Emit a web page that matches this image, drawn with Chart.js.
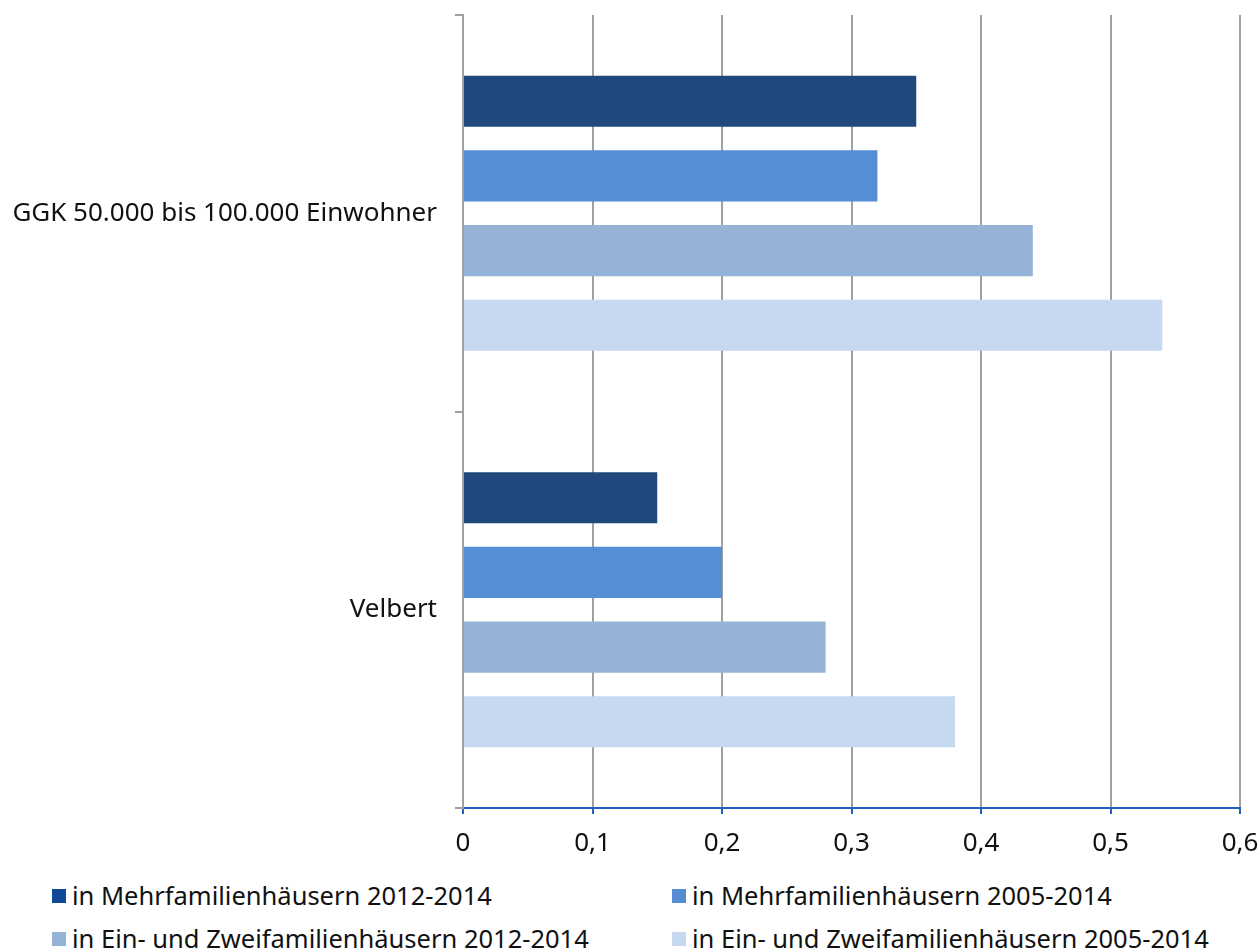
<!DOCTYPE html>
<html>
<head>
<meta charset="utf-8">
<script src="https://cdn.jsdelivr.net/npm/chart.js@4"></script>
<style>
  html, body { margin: 0; padding: 0; background: #fff; }
  #wrap { position: relative; width: 1259px; height: 949px; overflow: hidden; }
  #chart { position: absolute; left: 0; top: 0; }
  #legend { position: absolute; left: 0; top: 870px; width: 1259px; font-family: "Noto Sans", sans-serif; font-size: 25.5px; line-height: 35px; color: #111; }
  .item { position: absolute; display: flex; align-items: center; white-space: nowrap; }
  .box { width: 14px; height: 14px; margin-right: 6px; }
</style>
</head>
<body>
<div id="wrap">
  <canvas id="chart" width="1259" height="860"></canvas>
  <div id="legend"></div>
</div>
<script>
const categories = ["GGK 50.000 bis 100.000 Einwohner", "Velbert"];
const seriesNames = [
  "in Mehrfamilienhäusern 2012-2014",
  "in Mehrfamilienhäusern 2005-2014",
  "in Ein- und Zweifamilienhäusern 2012-2014",
  "in Ein- und Zweifamilienhäusern 2005-2014"
];
const mfh1214 = [0.35, 0.15];
const mfh0514 = [0.32, 0.20];
const ezfh1214 = [0.44, 0.28];
const ezfh0514 = [0.54, 0.38];
const barColors = ["#1f497d", "#558ed5", "#95b3d7", "#c6d9f1"];
const legendColors = ["#0e4a99", "#558ed5", "#95b3d7", "#c6d9f1"];

const seriesValues = [mfh1214, mfh0514, ezfh1214, ezfh0514];

const tickFont = { family: "Noto Sans", size: 26 };

const chart = new Chart(document.getElementById("chart"), {
  type: "bar",
  data: {
    labels: categories,
    datasets: seriesValues.map((vals, i) => ({
      label: seriesNames[i],
      data: vals,
      backgroundColor: barColors[i],
      borderWidth: 0,
      categoryPercentage: 0.753,
      barPercentage: 0.685
    }))
  },
  options: {
    indexAxis: "y",
    responsive: false,
    animation: false,
    layout: { padding: { top: 15, right: 19, left: 0, bottom: 0 } },
    plugins: { legend: { display: false }, tooltip: { enabled: false } },
    scales: {
      x: {
        min: 0,
        max: 0.6,
        ticks: {
          stepSize: 0.1,
          color: "#111",
          font: tickFont,
          padding: 14,
          maxRotation: 0,
          callback: v => String(Math.round(v * 10) / 10).replace(".", ",")
        },
        grid: { color: "#a0a0a0", lineWidth: 2, tickColor: "#1f5fbf", tickLength: 6 },
        border: { color: "#1f5fbf", width: 2 },
        afterFit: s => { s.height = 52; s.paddingLeft = 0; s.paddingRight = 0; }
      },
      y: {
        offset: true,
        ticks: { color: "#111", font: tickFont, padding: 18 },
        grid: { offset: true, drawOnChartArea: false, drawTicks: true, tickLength: 8, color: "#a0a0a0", lineWidth: 2 },
        border: { color: "#a0a0a0", width: 2 },
        afterFit: s => { s.width = 463; s.paddingTop = 0; s.paddingBottom = 0; }
      }
    }
  }
});

// legend below the chart, two columns
const legend = document.getElementById("legend");
const legendPos = [[52, 8], [672, 8], [52, 51], [672, 51]];
seriesNames.forEach((name, i) => {
  const item = document.createElement("div");
  item.className = "item";
  item.style.left = legendPos[i][0] + "px";
  item.style.top = legendPos[i][1] + "px";
  item.innerHTML = `<span class="box" style="background:${legendColors[i]}"></span><span>${name}</span>`;
  legend.appendChild(item);
});
</script>
</body>
</html>
